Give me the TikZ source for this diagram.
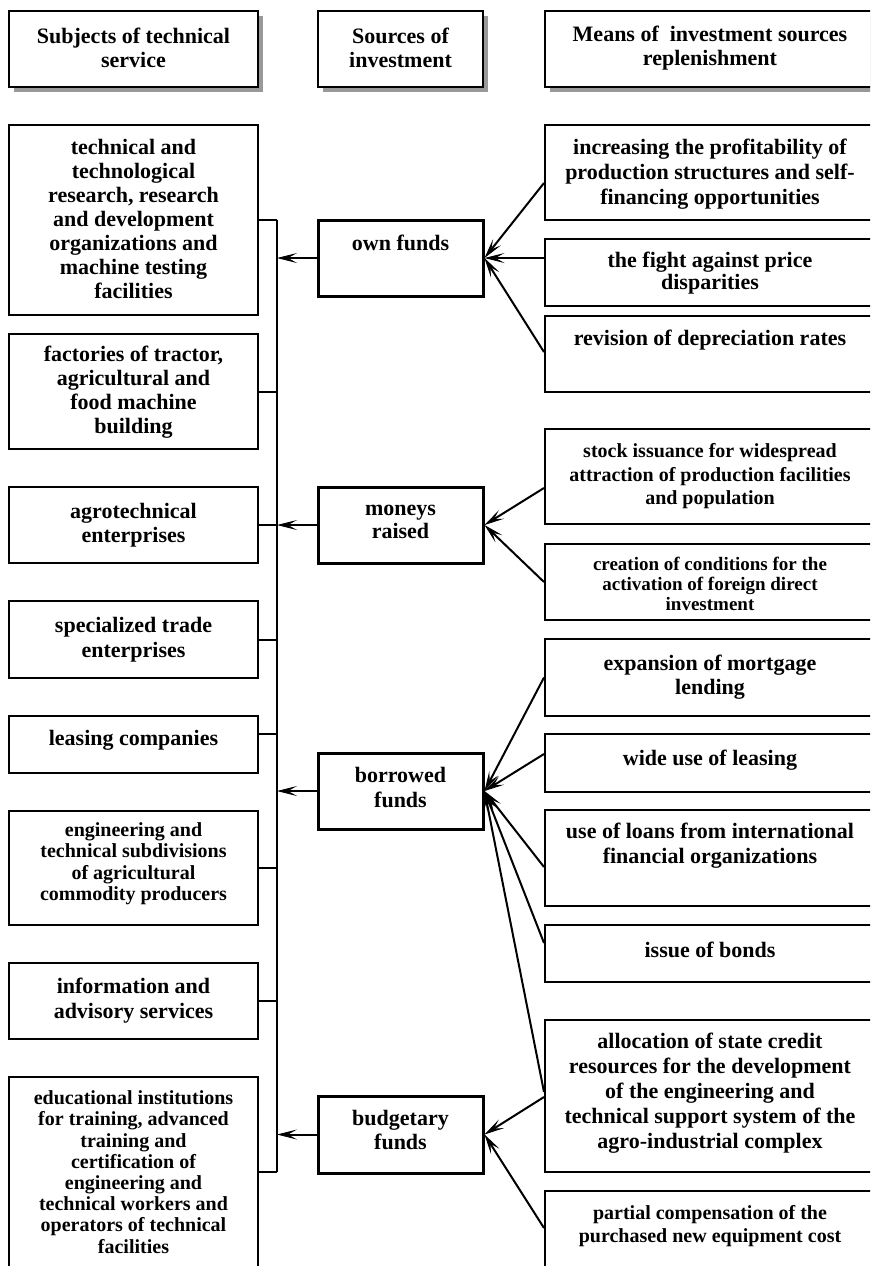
\documentclass[tikz,border=0pt]{standalone}
\usepackage{fontspec}
\setmainfont{Liberation Serif}
\usetikzlibrary{arrows.meta,shadows,calc}

\tikzset{
  hbox/.style={draw, line width=2.6pt, fill=white,
    drop shadow={shadow xshift=4.5pt, shadow yshift=-4.5pt, fill=black!40, opacity=1}},
  lbox/.style={draw, line width=2pt},
  sbox/.style={draw, line width=3pt},
  rbox/.style={draw, line width=2pt},
  fs/.style 2 args={font=\fontsize{#1}{#2}\selectfont\bfseries},
  txt/.style={align=center, inner sep=0pt, fs={22}{24.5}},
  conn/.style={line width=2pt},
  arr/.style={line width=2pt, -{Stealth[length=20pt,width=10pt,inset=9pt,line width=0.8pt]}},
}

% #1 box style, #2 name, #3 x1, #4 y1, #5 x2, #6 y2, #7 text options, #8 text y, #9 text
\newcommand\Bx[9]{%
  \node[#1, minimum width={(#5)-(#3)}, minimum height={(#6)-(#4)}] (#2)
    at ({((#3)+(#5))/2},{((#4)+(#6))/2}) {};
  \node[txt,#7] (#2t) at ({((#3)+(#5))/2},#8) {#9};}

\begin{document}
\begin{tikzpicture}[x=1pt,y=-1pt]
\useasboundingbox (0,0) rectangle (870,1266);
\clip (0,0) rectangle (870,1266);

% headers
\Bx{hbox}{H1}{9}{11}{258}{87}{}{48}{Subjects of technical\\service}
\Bx{hbox}{H2}{318}{11}{483}{87}{}{48}{Sources of\\investment}
\Bx{hbox}{H3}{545}{11}{875}{87}{}{48}{Means of~ investment sources\\replenishment}

% subjects of technical service
\Bx{lbox}{L1}{9}{125}{258}{315}{fs={22}{24}}{218.5}{technical and\\technological\\research, research\\and development\\organizations and\\machine testing\\facilities}
\Bx{lbox}{L2}{9}{334}{258}{449}{fs={22}{24}}{392.5}{factories of tractor,\\agricultural and\\food machine\\building}
\Bx{lbox}{L3}{9}{487}{258}{563}{}{525}{agrotechnical\\enterprises}
\Bx{lbox}{L4}{9}{601}{258}{678}{}{639.5}{specialized trade\\enterprises}
\Bx{lbox}{L5}{9}{716}{258}{773}{}{740}{leasing companies}
\Bx{lbox}{L6}{9}{811}{258}{925}{fs={20}{21.5}}{863.5}{engineering and\\technical subdivisions\\of agricultural\\commodity producers}
\Bx{lbox}{L7}{9}{963}{258}{1039}{}{1000.5}{information and\\advisory services}
\Bx{lbox}{L8}{9}{1077}{258}{1267}{fs={20}{21.2}}{1172}{educational institutions\\for training, advanced\\training and\\certification of\\engineering and\\technical workers and\\operators of technical\\facilities}

% sources of investment
\Bx{sbox}{S1}{318}{220}{483}{296}{}{243}{own funds}
\Bx{sbox}{S2}{318}{487}{483}{563}{fs={22}{23}}{522}{moneys\\raised}
\Bx{sbox}{S3}{318}{753}{483}{829}{}{787.5}{borrowed\\funds}
\Bx{sbox}{S4}{318}{1096}{483}{1173}{}{1130}{budgetary\\funds}

% means of replenishment
\Bx{rbox}{R1}{545}{125}{875}{220}{fs={22}{25}}{174}{increasing the profitability of\\production structures and self-\\financing opportunities}
\Bx{rbox}{R2}{545}{239}{875}{306}{fs={22}{22}}{273}{the fight against price\\disparities}
\Bx{rbox}{R3}{545}{316}{875}{392}{}{340}{revision of depreciation rates}
\Bx{rbox}{R4}{545}{429}{875}{524}{fs={20}{23.5}}{476.5}{stock issuance for widespread\\attraction of production facilities\\and population}
\Bx{rbox}{R5}{545}{544}{875}{620}{fs={19}{20}}{584}{creation of conditions for the\\activation of foreign direct\\investment}
\Bx{rbox}{R6}{545}{639}{875}{716}{}{677}{expansion of mortgage\\lending}
\Bx{rbox}{R7}{545}{734}{875}{792}{}{760}{wide use of leasing}
\Bx{rbox}{R8}{545}{810}{875}{906}{fs={22}{25}}{845.5}{use of loans from international\\financial organizations}
\Bx{rbox}{R9}{545}{925}{875}{982}{}{950}{issue of bonds}
\Bx{rbox}{R10}{545}{1020}{875}{1172}{fs={22}{25}}{1093}{allocation of state credit\\resources for the development\\of the engineering and\\technical support system of the\\agro-industrial complex}
\Bx{rbox}{R11}{545}{1191}{875}{1275}{fs={20}{23}}{1226.5}{partial compensation of the\\purchased new equipment cost}

% bus on the left
\coordinate (bus) at (277,0);
\draw[conn] (L1.east -| bus) -- (L8.east -| bus);
\foreach \n in {L1,L2,L3,L4,L6,L7,L8}
  \draw[conn] (\n.east) -- (\n.east -| bus);
\draw[conn] ([yshift=10.5pt]L5.east) -- ([yshift=10.5pt]L5.east -| bus);
\foreach \n in {S1,S2,S3,S4}
  \draw[arr] (\n.west) -- (\n.west -| bus);

% arrows from means to sources
\draw[arr] ([yshift=-10.5pt]R1.west) -- (S1.east);
\draw[arr] ([yshift=14.5pt]R2.west) -- (S1.east);
\draw[arr] ([yshift=2pt]R3.west) -- (S1.east);
\draw[arr] ([yshift=-11.5pt]R4.west) -- (S2.east);
\draw[arr] (R5.west) -- (S2.east);
\draw[arr] (R6.west) -- (S3.east);
\draw[arr] ([yshift=9pt]R7.west) -- (S3.east);
\draw[arr] ([yshift=-9pt]R8.west) -- (S3.east);
\draw[arr] ([yshift=10.5pt]R9.west) -- (S3.east);
\draw[arr] ([yshift=4pt]R10.west) -- (S3.east);
\draw[arr] ([yshift=-1pt]R10.west) -- (S4.east);
\draw[arr] ([yshift=5pt]R11.west) -- (S4.east);
\end{tikzpicture}
\end{document}
